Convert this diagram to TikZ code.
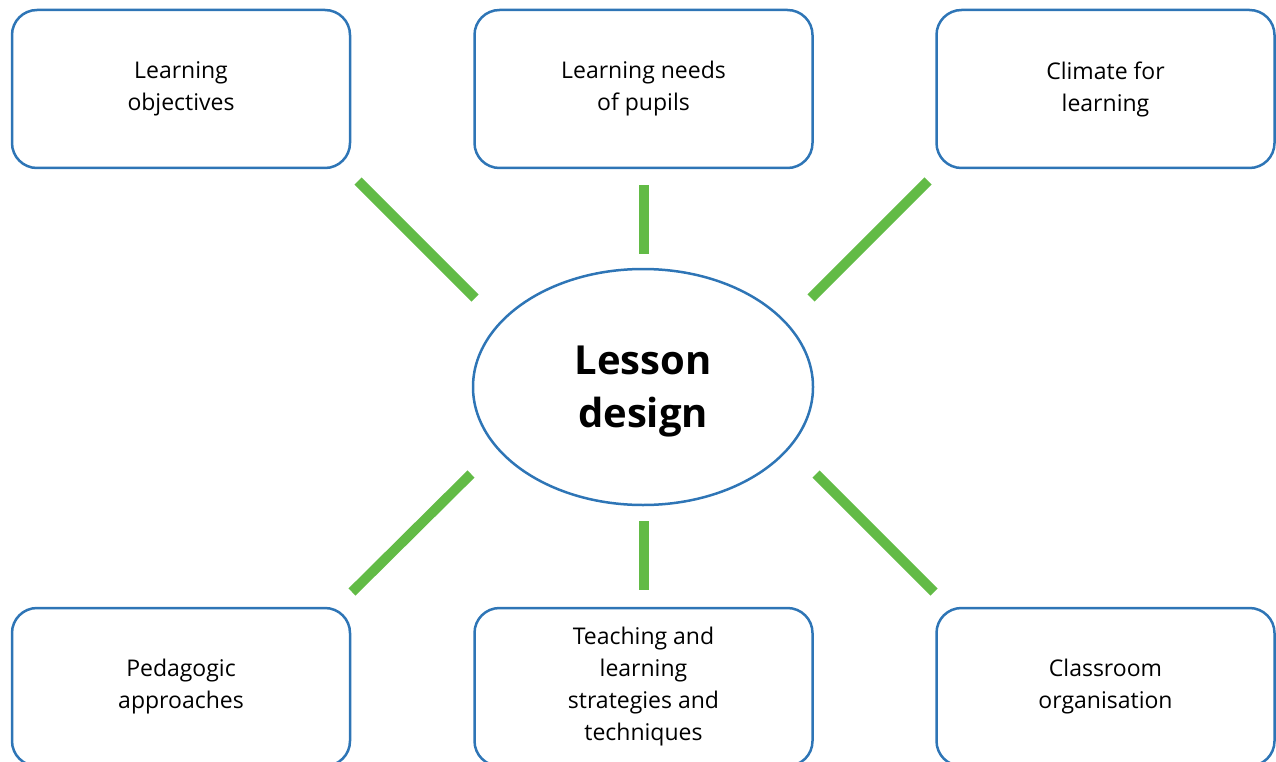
\documentclass[tikz,border=0pt]{standalone}
\usepackage{fontspec}
\setmainfont{Open Sans}
\usepackage{tikz}
\usetikzlibrary{shapes.geometric}

\definecolor{boxblue}{HTML}{2E75B6}
\definecolor{linkgreen}{HTML}{62BB46}

\begin{document}
\begin{tikzpicture}[x=1pt,y=-1pt,
    topic/.style={draw=boxblue,line width=2.5pt,rounded corners=25pt,
      minimum width=338pt,minimum height=158pt,align=center,
      font=\fontsize{23}{32}\selectfont},
    hub/.style={ellipse,draw=boxblue,line width=2.5pt,
      minimum width=340pt,minimum height=236pt},
    hubtext/.style={align=center,font=\fontsize{40}{53}\selectfont\bfseries},
    link/.style={linkgreen,line width=10pt}]
      \useasboundingbox (0,0) rectangle (1276,762);
      \clip (0,0) rectangle (1276,762);
      % centre
      \node[hub] (design) at (643,387) {};
      \node[hubtext] (designtext) at (643,392) {Lesson\\design};
      % surrounding topics
      \node[topic] (objectives) at (181,89) {Learning\\objectives};
      \node[topic] (needs) at (643.5,89) {Learning needs\\of pupils};
      \node[topic] (climate) at (1105.5,89) {Climate for\\learning};
      \node[topic] (approaches) at (181,687) {Pedagogic\\approaches};
      \node[topic] (strategies) at (643.5,687) {Teaching and\\learning\\strategies and\\techniques};
      \node[topic] (organisation) at (1105.5,687) {Classroom\\organisation};
      % spokes
      \coordinate (tl1) at (358,181); \coordinate (tl2) at (475,298);
      \coordinate (tm1) at (643.5,185); \coordinate (tm2) at (643.5,254);
      \coordinate (tr1) at (928,181); \coordinate (tr2) at (811,298);
      \coordinate (bl1) at (471,474); \coordinate (bl2) at (352,592);
      \coordinate (bm1) at (643.5,521); \coordinate (bm2) at (643.5,590);
      \coordinate (br1) at (816,474); \coordinate (br2) at (934,592);
      \draw[link] (tl1) -- (tl2);
      \draw[link] (tm1) -- (tm2);
      \draw[link] (tr1) -- (tr2);
      \draw[link] (bl1) -- (bl2);
      \draw[link] (bm1) -- (bm2);
      \draw[link] (br1) -- (br2);
\end{tikzpicture}
\end{document}
